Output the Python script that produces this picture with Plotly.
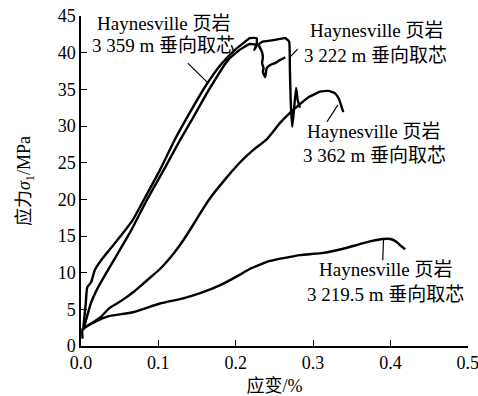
import plotly.graph_objects as go

# Stress-strain curves of Haynesville shale cores (strain in %, stress in MPa)
strain_3359 = [0.003, 0.006, 0.008, 0.013, 0.018, 0.026, 0.039, 0.052, 0.067, 0.083,
               0.102, 0.121, 0.141, 0.160, 0.180, 0.199, 0.212, 0.218, 0.227, 0.227,
               0.224, 0.226, 0.229, 0.234, 0.235, 0.234, 0.236, 0.235, 0.238, 0.240,
               0.244, 0.251, 0.257, 0.264]
stress_3359 = [2.5, 5.6, 8.0, 8.7, 10.4, 11.7, 13.4, 15.1, 17.2, 20.3,
               24.0, 28.1, 31.9, 35.3, 38.3, 40.4, 41.5, 42.0, 42.0, 41.0,
               40.4, 40.9, 41.1, 40.1, 39.3, 38.6, 37.9, 37.4, 36.7, 37.9,
               38.3, 38.6, 39.0, 39.4]

strain_3222 = [0.003, 0.013, 0.022, 0.035, 0.048, 0.065, 0.085, 0.109, 0.128, 0.143,
               0.165, 0.190, 0.205, 0.218, 0.229, 0.234, 0.247, 0.264, 0.269, 0.270,
               0.271, 0.273, 0.275, 0.278, 0.280, 0.283]
stress_3222 = [2.2, 5.9, 8.0, 10.4, 12.7, 15.8, 19.9, 24.4, 28.1, 30.8,
               34.9, 39.0, 40.4, 41.2, 41.1, 41.5, 41.7, 42.0, 41.5, 37.7,
               33.6, 29.9, 31.9, 35.2, 33.6, 32.5]

strain_3362 = [0.001, 0.012, 0.025, 0.037, 0.048, 0.058, 0.067, 0.076, 0.089, 0.100,
               0.110, 0.121, 0.132, 0.143, 0.154, 0.167, 0.186, 0.205, 0.222, 0.240,
               0.257, 0.270, 0.283, 0.295, 0.309, 0.320, 0.328, 0.333, 0.336, 0.339]
stress_3362 = [2.2, 3.0, 3.9, 5.2, 5.9, 6.6, 7.3, 8.1, 9.3, 10.3,
               11.4, 12.8, 14.4, 16.2, 18.1, 20.2, 22.7, 25.0, 26.7, 28.2,
               30.4, 31.8, 33.0, 34.0, 34.7, 34.8, 34.5, 33.8, 32.9, 31.9]

strain_3219 = [0.002, 0.002, 0.020, 0.037, 0.067, 0.102, 0.132, 0.154, 0.180, 0.205,
               0.218, 0.244, 0.283, 0.313, 0.340, 0.357, 0.375, 0.390, 0.400, 0.408,
               0.412, 0.419]
stress_3219 = [1.0, 2.3, 3.4, 4.1, 4.6, 5.8, 6.5, 7.2, 8.3, 9.7,
               10.5, 11.6, 12.4, 12.7, 13.3, 13.8, 14.3, 14.6, 14.6, 14.2,
               13.8, 13.2]

x_ticks = [0.0, 0.1, 0.2, 0.3, 0.4, 0.5]
y_ticks = [0, 5, 10, 15, 20, 25, 30, 35, 40, 45]

# Label lines: (x, y, text)
labels = [
    (0.107, 44.0, "Haynesville 页岩"),
    (0.107, 41.0, "3 359 m 垂向取芯"),
    (0.382, 43.0, "Haynesville 页岩"),
    (0.381, 39.6, "3 222 m 垂向取芯"),
    (0.379, 29.2, "Haynesville 页岩"),
    (0.379, 26.0, "3 362 m 垂向取芯"),
    (0.394, 10.5, "Haynesville 页岩"),
    (0.394, 7.0, "3 219.5 m 垂向取芯"),
]
# Leader lines from each label to its curve: (x0, y0, x1, y1)
leaders = [
    (0.138, 38.6, 0.163, 36.0),
    (0.270, 39.4, 0.280, 40.5),
    (0.332, 32.9, 0.318, 30.6),
    (0.391, 14.6, 0.390, 11.7),
]

FONT = '"Times New Roman", "Liberation Serif", "Noto Sans CJK SC", serif'

fig = go.Figure()
for xs, ys in [(strain_3359, stress_3359), (strain_3222, stress_3222),
               (strain_3362, stress_3362), (strain_3219, stress_3219)]:
    fig.add_trace(go.Scatter(x=xs, y=ys, mode="lines",
                             line=dict(color="black", width=2.4, shape="spline", smoothing=0.4),
                             showlegend=False, hoverinfo="skip"))

for x, y, t in labels:
    fig.add_annotation(x=x, y=y, text=t, showarrow=False,
                       xanchor="center", yanchor="middle",
                       font=dict(family=FONT, size=19, color="black"))

for x0, y0, x1, y1 in leaders:
    fig.add_shape(type="line", x0=x0, y0=y0, x1=x1, y1=y1,
                  line=dict(color="black", width=1.2))

fig.update_layout(
    width=478, height=396,
    margin=dict(l=81, r=10, t=16, b=50, autoexpand=False),
    paper_bgcolor="white", plot_bgcolor="white",
    font=dict(family=FONT, size=18, color="black"),
    showlegend=False,
)
fig.update_xaxes(range=[0, 0.5002], tickvals=x_ticks,
                 ticktext=[f"{v:.1f}" for v in x_ticks],
                 ticklabeloverflow="allow", automargin=False,
                 showgrid=False, zeroline=False, showline=True,
                 linecolor="black", linewidth=1.5,
                 ticks="inside", ticklen=6, tickwidth=1.2, tickcolor="black",
                 tickfont=dict(family=FONT, size=18),
                 title=dict(text="应变/%", font=dict(family=FONT, size=18), standoff=10))
fig.update_yaxes(range=[0, 45.02], tickvals=y_ticks, automargin=False,
                 showgrid=False, zeroline=False, showline=True,
                 linecolor="black", linewidth=1.5,
                 ticks="inside", ticklen=6, tickwidth=1.2, tickcolor="black",
                 tickfont=dict(family=FONT, size=18),
                 title=dict(text="应力<i>σ</i><sub>1</sub>/MPa", font=dict(family=FONT, size=18), standoff=22))

fig.write_html("out.html")
